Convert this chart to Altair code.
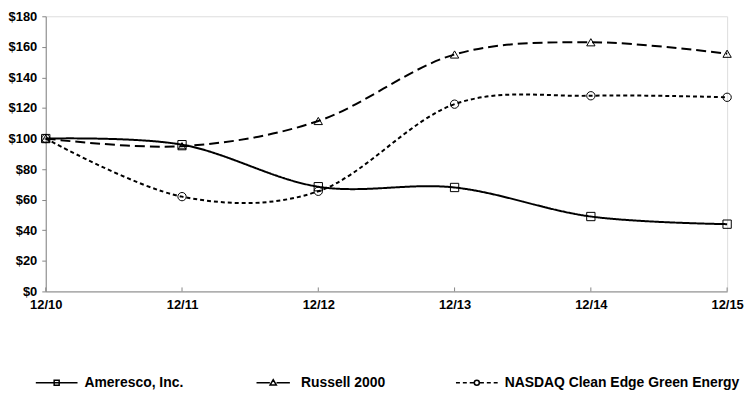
import altair as alt
import pandas as pd

# ---- data ----
periods = ["12/10", "12/11", "12/12", "12/13", "12/14", "12/15"]
series_names = ["Ameresco, Inc.", "Russell 2000", "NASDAQ Clean Edge Green Energy"]
ameresco = [100, 96, 68.5, 68, 49, 44]
russell = [100, 95, 111.5, 155, 163, 155.5]
nasdaq = [100, 62, 65.5, 122.5, 128, 127]
y_ticks = [0, 20, 40, 60, 80, 100, 120, 140, 160, 180]

rows = []
for name, vals in zip(series_names, [ameresco, russell, nasdaq]):
    for p, v in zip(periods, vals):
        rows.append({"period": p, "value": v, "series": name, "series_mark": name})
df = pd.DataFrame(rows)
ticks_df = pd.DataFrame({"period": periods})

AX = "#868686"
W, H = 686, 277
FONT = "Liberation Sans"

x_enc = alt.X(
    "period:O",
    sort=periods,
    scale=alt.Scale(type="point", padding=0),
    axis=alt.Axis(
        title=None, labelAngle=0, ticks=False, tickSize=0, labelPadding=7,
        domainColor=AX, domainWidth=1, labelFontWeight="bold", labelFontSize=13,
        labelColor="black", labelFont=FONT,
    ),
)
y_enc = alt.Y(
    "value:Q",
    scale=alt.Scale(domain=[0, 180], nice=False),
    axis=alt.Axis(
        title=None, values=y_ticks, labelExpr="'$' + datum.value", grid=False,
        tickSize=4, tickColor=AX, domainColor=AX, labelPadding=5,
        labelFontWeight="bold", labelFontSize=13, labelColor="black", labelFont=FONT,
    ),
)

dash_range = [[1, 0], [10, 5], [4, 3]]
marker_range = ["square", "triangle-up", "circle"]

# legend symbols: line (dashes) + small open marker, drawn as a single path
legend_paths = [
    "M-1,0H1M-0.12,-0.12H0.12V0.12H-0.12Z",
    "M-0.8,0H-0.16M0.16,0H0.8M0,-0.15L0.15,0.11L-0.15,0.11Z",
    "M-1,0H-0.81M-0.67,0H-0.48M-0.34,0H-0.14M0.14,0H0.34M0.48,0H0.67M0.81,0H1"
    "M0.12,0A0.12,0.12 0 1,1 -0.12,0A0.12,0.12 0 1,1 0.12,0Z",
]

lines = alt.Chart(df).mark_line(interpolate="cardinal", strokeWidth=2, color="black").encode(
    x=x_enc,
    y=y_enc,
    strokeDash=alt.StrokeDash(
        "series:N", sort=series_names,
        scale=alt.Scale(domain=series_names, range=dash_range), legend=None,
    ),
    detail="series:N",
)

points = alt.Chart(df).mark_point(filled=False, size=70, strokeWidth=1, color="black", opacity=1).encode(
    x=x_enc,
    y=y_enc,
    shape=alt.Shape(
        "series_mark:N",
        scale=alt.Scale(domain=series_names, range=marker_range), legend=None,
    ),
)

legend_layer = alt.Chart(df).mark_point(filled=False, color="black", opacity=0).encode(
    x=x_enc,
    y=y_enc,
    shape=alt.Shape(
        "series:N",
        sort=series_names,
        scale=alt.Scale(domain=series_names, range=legend_paths),
        legend=alt.Legend(
            title=None, orient="none", legendX=-11, legendY=347, direction="horizontal",
            symbolSize=1764, symbolStrokeWidth=1.5, symbolStrokeColor="black",
            symbolFillColor="transparent", symbolOpacity=1, labelOffset=6,
            columnPadding=68, labelFontSize=14, labelFontWeight="bold",
            labelColor="black", labelFont=FONT, padding=0, labelLimit=400,
        ),
    ),
)

xticks = alt.Chart(ticks_df).mark_rule(color=AX, strokeWidth=1).encode(
    x=x_enc,
    y=alt.value(H),
    y2=alt.value(H - 4),
)

chart = (
    alt.layer(xticks, lines, points, legend_layer)
    .resolve_scale(shape="independent")
    .properties(
        width=W,
        height=H,
        padding={"left": 38, "top": 7, "right": 18, "bottom": 110},
        autosize=alt.AutoSizeParams(type="none"),
        background="white",
    )
    .configure_view(stroke=None)
    .configure(font=FONT)
)

chart.save("out.html", embed_options={"renderer": "svg", "actions": False})
